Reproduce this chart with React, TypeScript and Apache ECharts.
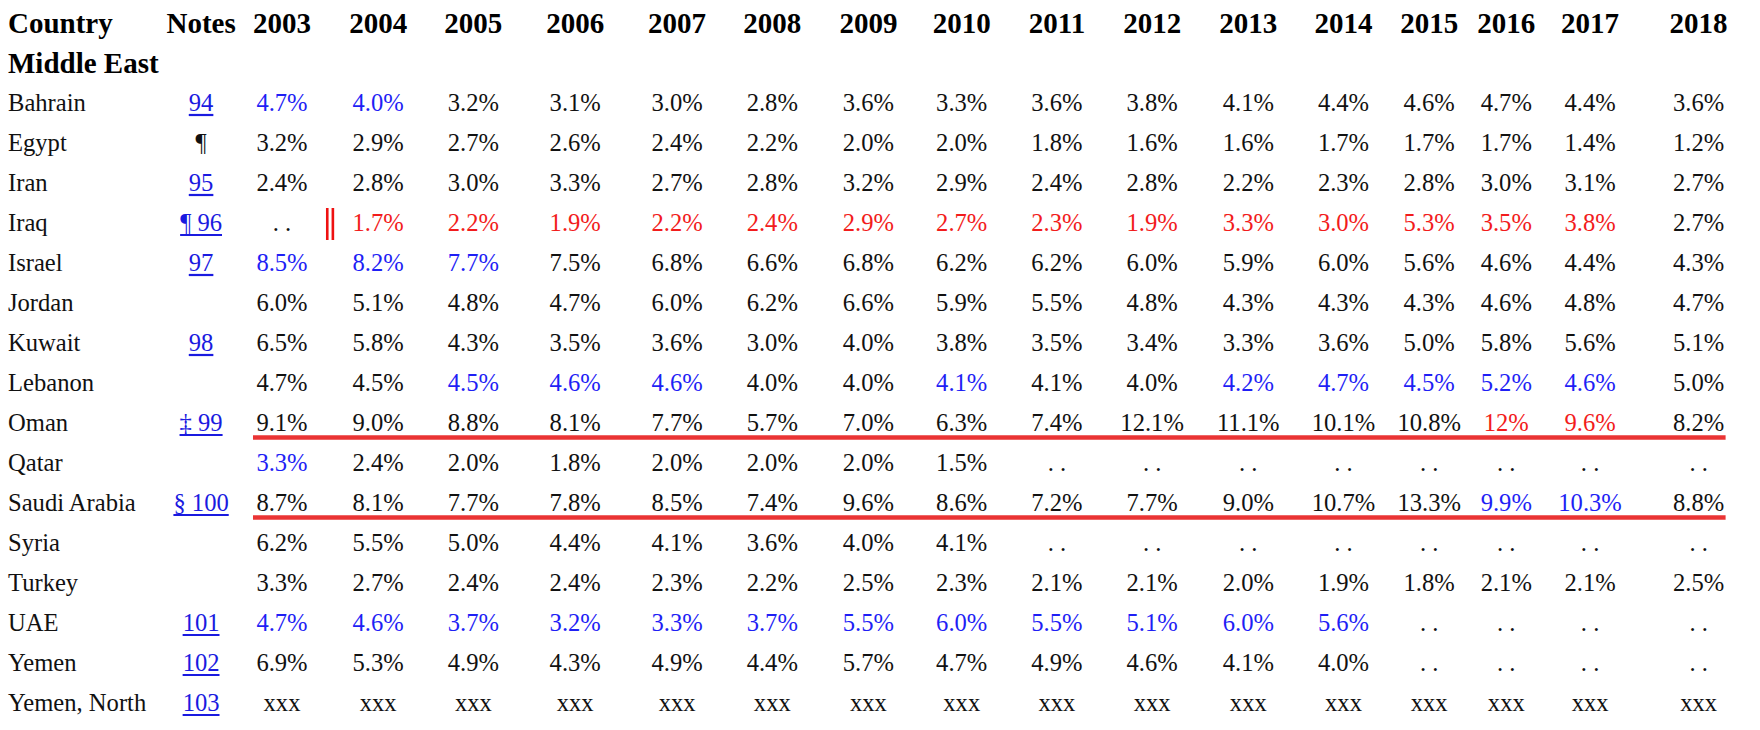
import React, { useEffect, useRef } from "react";
import * as echarts from "echarts";

// ---------------- data ----------------
const YEARS = ["2003", "2004", "2005", "2006", "2007", "2008", "2009", "2010", "2011", "2012", "2013", "2014", "2015", "2016", "2017", "2018"];
const REGION = "Middle East";
const COUNTRIES = ["Bahrain", "Egypt", "Iran", "Iraq", "Israel", "Jordan", "Kuwait", "Lebanon", "Oman", "Qatar", "Saudi Arabia", "Syria", "Turkey", "UAE", "Yemen", "Yemen, North"];
const NOTES = ["94", "¶", "95", "¶ 96", "97", "", "98", "", "‡ 99", "", "§ 100", "", "", "101", "102", "103"];
const LINKED_NOTES = ["94", "95", "¶ 96", "97", "98", "‡ 99", "§ 100", "101", "102", "103"];

const BAHRAIN = ["4.7%", "4.0%", "3.2%", "3.1%", "3.0%", "2.8%", "3.6%", "3.3%", "3.6%", "3.8%", "4.1%", "4.4%", "4.6%", "4.7%", "4.4%", "3.6%"];
const EGYPT = ["3.2%", "2.9%", "2.7%", "2.6%", "2.4%", "2.2%", "2.0%", "2.0%", "1.8%", "1.6%", "1.6%", "1.7%", "1.7%", "1.7%", "1.4%", "1.2%"];
const IRAN = ["2.4%", "2.8%", "3.0%", "3.3%", "2.7%", "2.8%", "3.2%", "2.9%", "2.4%", "2.8%", "2.2%", "2.3%", "2.8%", "3.0%", "3.1%", "2.7%"];
const IRAQ = [". .", "1.7%", "2.2%", "1.9%", "2.2%", "2.4%", "2.9%", "2.7%", "2.3%", "1.9%", "3.3%", "3.0%", "5.3%", "3.5%", "3.8%", "2.7%"];
const ISRAEL = ["8.5%", "8.2%", "7.7%", "7.5%", "6.8%", "6.6%", "6.8%", "6.2%", "6.2%", "6.0%", "5.9%", "6.0%", "5.6%", "4.6%", "4.4%", "4.3%"];
const JORDAN = ["6.0%", "5.1%", "4.8%", "4.7%", "6.0%", "6.2%", "6.6%", "5.9%", "5.5%", "4.8%", "4.3%", "4.3%", "4.3%", "4.6%", "4.8%", "4.7%"];
const KUWAIT = ["6.5%", "5.8%", "4.3%", "3.5%", "3.6%", "3.0%", "4.0%", "3.8%", "3.5%", "3.4%", "3.3%", "3.6%", "5.0%", "5.8%", "5.6%", "5.1%"];
const LEBANON = ["4.7%", "4.5%", "4.5%", "4.6%", "4.6%", "4.0%", "4.0%", "4.1%", "4.1%", "4.0%", "4.2%", "4.7%", "4.5%", "5.2%", "4.6%", "5.0%"];
const OMAN = ["9.1%", "9.0%", "8.8%", "8.1%", "7.7%", "5.7%", "7.0%", "6.3%", "7.4%", "12.1%", "11.1%", "10.1%", "10.8%", "12%", "9.6%", "8.2%"];
const QATAR = ["3.3%", "2.4%", "2.0%", "1.8%", "2.0%", "2.0%", "2.0%", "1.5%", ". .", ". .", ". .", ". .", ". .", ". .", ". .", ". ."];
const SAUDI_ARABIA = ["8.7%", "8.1%", "7.7%", "7.8%", "8.5%", "7.4%", "9.6%", "8.6%", "7.2%", "7.7%", "9.0%", "10.7%", "13.3%", "9.9%", "10.3%", "8.8%"];
const SYRIA = ["6.2%", "5.5%", "5.0%", "4.4%", "4.1%", "3.6%", "4.0%", "4.1%", ". .", ". .", ". .", ". .", ". .", ". .", ". .", ". ."];
const TURKEY = ["3.3%", "2.7%", "2.4%", "2.4%", "2.3%", "2.2%", "2.5%", "2.3%", "2.1%", "2.1%", "2.0%", "1.9%", "1.8%", "2.1%", "2.1%", "2.5%"];
const UAE = ["4.7%", "4.6%", "3.7%", "3.2%", "3.3%", "3.7%", "5.5%", "6.0%", "5.5%", "5.1%", "6.0%", "5.6%", ". .", ". .", ". .", ". ."];
const YEMEN = ["6.9%", "5.3%", "4.9%", "4.3%", "4.9%", "4.4%", "5.7%", "4.7%", "4.9%", "4.6%", "4.1%", "4.0%", ". .", ". .", ". .", ". ."];
const YEMEN_NORTH = ["xxx", "xxx", "xxx", "xxx", "xxx", "xxx", "xxx", "xxx", "xxx", "xxx", "xxx", "xxx", "xxx", "xxx", "xxx", "xxx"];

const VALUES = [BAHRAIN, EGYPT, IRAN, IRAQ, ISRAEL, JORDAN, KUWAIT, LEBANON, OMAN, QATAR, SAUDI_ARABIA, SYRIA, TURKEY, UAE, YEMEN, YEMEN_NORTH];

// cells highlighted in blue / red in the source table
const BLUE_CELLS: Record<string, string[]> = {
  Bahrain: ["2003", "2004"],
  Israel: ["2003", "2004", "2005"],
  Lebanon: ["2005", "2006", "2007", "2010", "2013", "2014", "2015", "2016", "2017"],
  Qatar: ["2003"],
  "Saudi Arabia": ["2016", "2017"],
  UAE: ["2003", "2004", "2005", "2006", "2007", "2008", "2009", "2010", "2011", "2012", "2013", "2014"],
};
const RED_CELLS: Record<string, string[]> = {
  Iraq: ["2004", "2005", "2006", "2007", "2008", "2009", "2010", "2011", "2012", "2013", "2014", "2015", "2016", "2017"],
  Oman: ["2016", "2017"],
};
const UNDERLINED_ROWS = ["Oman", "Saudi Arabia"];
const BREAK_MARK = { country: "Iraq", between: ["2003", "2004"] };

// ---------------- layout (not data) ----------------
const COLUMN_UNITS = [0, 1.01, 2.01, 3.08, 4.15, 5.15, 6.16, 7.14, 8.14, 9.14, 10.15, 11.15, 12.05, 12.86, 13.74, 14.88];
const NOTES_UNIT = -0.85;
const X_MIN = -2.962;
const X_MAX = 15.525;

const FONT_FAMILY = "'Liberation Serif', 'Times New Roman', Times, serif";
const HEAD_SIZE = 29;
const BODY_SIZE = 24.6;
const BLACK = "#111111";
const BLUE = "#1f1ff5";
const RED = "#f21c1c";
const LINK = "#1a1ae0";
const RULE_RED = "#ea3434";

const ROWS = ["Country", REGION, ...COUNTRIES];

type Cell = { x: number; row: number; text: string; bold: boolean; color: string; underline: boolean };

function measure(text: string, font: string): number {
  const c = document.createElement("canvas").getContext("2d");
  if (!c) return text.length * 12;
  c.font = font;
  return c.measureText(text).width;
}

function buildCells(): Cell[] {
  const cells: Cell[] = [];
  cells.push({ x: NOTES_UNIT, row: 0, text: "Notes", bold: true, color: "#000", underline: false });
  YEARS.forEach((y, j) => cells.push({ x: COLUMN_UNITS[j], row: 0, text: y, bold: true, color: "#000", underline: false }));
  COUNTRIES.forEach((country, i) => {
    const row = i + 2;
    const note = NOTES[i];
    if (note) {
      const linked = LINKED_NOTES.includes(note);
      cells.push({ x: NOTES_UNIT, row, text: note, bold: false, color: linked ? LINK : BLACK, underline: linked });
    }
    VALUES[i].forEach((v, j) => {
      const yr = YEARS[j];
      let color = BLACK;
      if ((BLUE_CELLS[country] || []).includes(yr)) color = BLUE;
      if ((RED_CELLS[country] || []).includes(yr)) color = RED;
      cells.push({ x: COLUMN_UNITS[j], row, text: v, bold: false, color, underline: false });
    });
  });
  return cells;
}

export default function App() {
  const ref = useRef<HTMLDivElement>(null);
  useEffect(() => {
    if (!ref.current) return;
    const chart = echarts.init(ref.current, undefined, { renderer: "svg" });
    const cells = buildCells();
    const bodyFont = `${BODY_SIZE}px ${FONT_FAMILY}`;

    const underlineData = UNDERLINED_ROWS.map((c) => [COLUMN_UNITS[0], COUNTRIES.indexOf(c) + 2, COLUMN_UNITS[COLUMN_UNITS.length - 1]]);
    const bj0 = YEARS.indexOf(BREAK_MARK.between[0]);
    const bj1 = YEARS.indexOf(BREAK_MARK.between[1]);
    const breakData = [[(COLUMN_UNITS[bj0] + COLUMN_UNITS[bj1]) / 2, COUNTRIES.indexOf(BREAK_MARK.country) + 2]];

    const option: any = {
      animation: false,
      backgroundColor: "#ffffff",
      grid: { left: 0, right: 0, top: 2.5, bottom: 7.5 },
      xAxis: { type: "value", min: X_MIN, max: X_MAX, show: false },
      yAxis: {
        type: "category",
        inverse: true,
        data: ROWS,
        axisLine: { show: false },
        axisTick: { show: false },
        splitLine: { show: false },
        axisLabel: {
          inside: true,
          margin: 8,
          fontFamily: FONT_FAMILY,
          fontSize: BODY_SIZE,
          color: BLACK,
          formatter: (v: string, i: number) => (i < 2 ? `{h|${v}}` : `{r|${v}}`),
          rich: {
            h: { fontFamily: FONT_FAMILY, fontSize: HEAD_SIZE, fontWeight: "bold", color: "#000" },
            r: { fontFamily: FONT_FAMILY, fontSize: BODY_SIZE, color: BLACK },
          },
        },
      },
      series: [
        {
          type: "custom",
          name: "cells",
          clip: false,
          data: cells.map((c) => [c.x, c.row]),
          renderItem: (params: any, api: any) => {
            const cell = cells[params.dataIndex];
            const p = api.coord([api.value(0), api.value(1)]);
            const size = cell.bold ? HEAD_SIZE : BODY_SIZE;
            const font = `${cell.bold ? "bold " : ""}${size}px ${FONT_FAMILY}`;
            const textEl = {
              type: "text",
              x: p[0],
              y: p[1],
              style: {
                text: cell.text,
                font,
                fill: cell.color,
                align: "center",
                verticalAlign: "middle",
                textAlign: "center",
                textVerticalAlign: "middle",
              },
            };
            if (!cell.underline) return textEl;
            const w = measure(cell.text, bodyFont);
            return {
              type: "group",
              children: [
                textEl,
                {
                  type: "line",
                  shape: { x1: p[0] - w / 2, y1: p[1] + 12.5, x2: p[0] + w / 2, y2: p[1] + 12.5 },
                  style: { stroke: cell.color, lineWidth: 2.2 },
                },
              ],
            };
          },
        },
        {
          type: "custom",
          name: "row rules",
          clip: false,
          data: underlineData,
          renderItem: (params: any, api: any) => {
            const a = api.coord([api.value(0), api.value(1)]);
            const b = api.coord([api.value(2), api.value(1)]);
            return {
              type: "line",
              shape: { x1: a[0] - 29, y1: a[1] + 15, x2: b[0] + 27, y2: b[1] + 15 },
              style: { stroke: RULE_RED, lineWidth: 4.5 },
            };
          },
        },
        {
          type: "custom",
          name: "break mark",
          clip: false,
          data: breakData,
          renderItem: (params: any, api: any) => {
            const p = api.coord([api.value(0), api.value(1)]);
            return {
              type: "group",
              children: [-2.8, 2.8].map((dx) => ({
                type: "line",
                shape: { x1: p[0] + dx, y1: p[1] - 14.5, x2: p[0] + dx, y2: p[1] + 17.5 },
                style: { stroke: "#ee1111", lineWidth: 2.6 },
              })),
            };
          },
        },
      ],
    };
    chart.setOption(option);
    return () => chart.dispose();
  }, []);

  return <div ref={ref} style={{ position: "fixed", left: 0, top: 0, width: 1760, height: 730, background: "#fff" }} />;
}
